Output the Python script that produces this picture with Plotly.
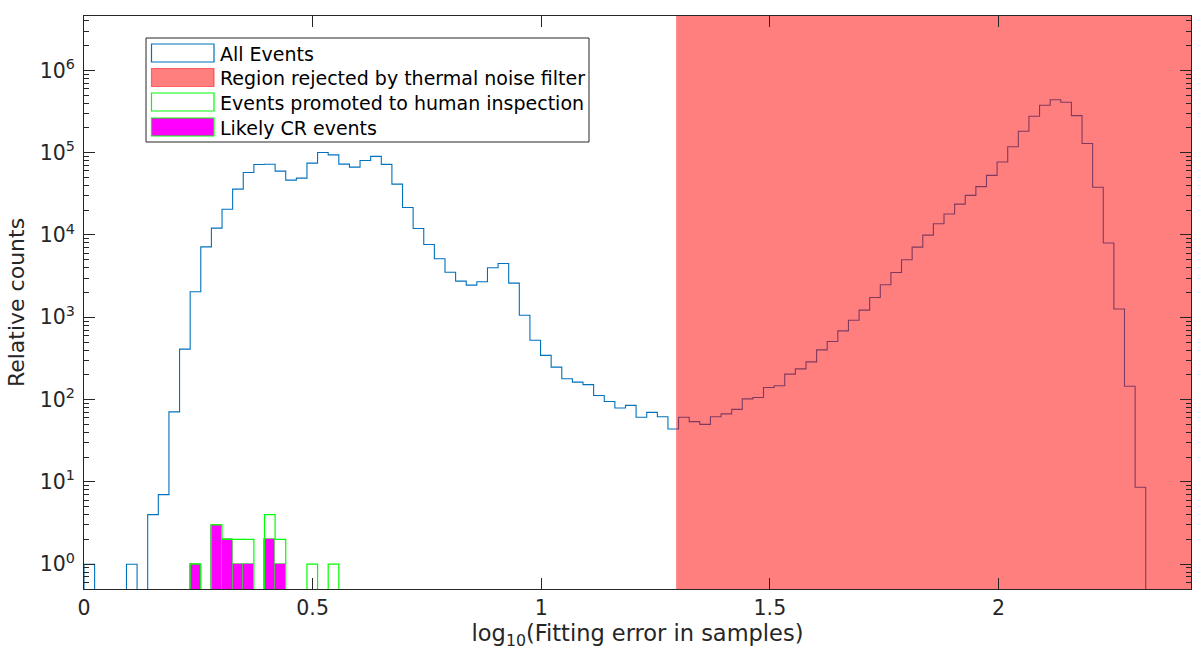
import numpy as np
import plotly.graph_objects as go

# ---------------- data ----------------
BIN_LO = 0.0
BIN_HI = 2.322
N_BINS = 100

all_counts = [
    1, 0, 0, 0, 1, 0, 4, 7, 71, 410,
    2040, 7160, 12100, 20500, 36000, 57400, 71900, 72300, 59600, 46300,
    49000, 74500, 100500, 94000, 72500, 66700, 80400, 90000, 72000, 41400,
    21600, 12000, 7670, 5130, 3530, 2750, 2460, 2700, 3990, 4510,
    2600, 1060, 527, 344, 248, 179, 163, 152, 112, 95,
    79, 85, 61, 70, 62, 44, 61, 54, 50, 62,
    67, 76, 102, 106, 140, 147, 204, 236, 287, 402,
    508, 684, 922, 1220, 1740, 2480, 3500, 4990, 7110, 9950,
    13700, 18000, 23700, 30300, 38700, 53000, 76900, 118000, 182000, 277000,
    376000, 440000, 410000, 282000, 129000, 38000, 8000, 1260, 145, 8.6,
]

promoted_bins = [10, 12, 13, 14, 15, 17, 18, 21, 23]
promoted_counts = [1, 3, 2, 2, 2, 4, 2, 1, 1]

cr_bins = [10, 12, 13, 14, 15, 17, 18]
cr_counts = [1, 3, 2, 1, 1, 2, 1]

THRESHOLD = 1.295          # start of thermal-noise rejection region
X_RANGE = [0, 2.421]
Y_RANGE_LOG = [-0.301, 6.66]

y_tick_vals = [1e0, 1e1, 1e2, 1e3, 1e4, 1e5, 1e6]
y_tick_text = ["10<sup>%d</sup>" % i for i in range(7)]
x_tick_vals = [0, 0.5, 1, 1.5, 2]
x_tick_text = ["0", "0.5", "1", "1.5", "2"]

legend_labels = [
    "All Events",
    "Region rejected by thermal noise filter",
    "Events promoted to human inspection",
    "Likely CR events",
]

# ---------------- helpers ----------------
edges = np.linspace(BIN_LO, BIN_HI, N_BINS + 1)
centers = 0.5 * (edges[:-1] + edges[1:])
width = edges[1] - edges[0]
FLOOR = 10 ** (Y_RANGE_LOG[0] - 2)


def full(bins, counts):
    arr = [0] * N_BINS
    for b, c in zip(bins, counts):
        arr[b] = c
    return arr


def step_xy(counts):
    xs = [edges[0]] + list(edges)
    ys = [FLOOR] + [c if c > 0 else FLOOR for c in counts] + [FLOOR]
    return xs, ys


DARK = "#262626"
FONT = "DejaVu Sans"

fig = go.Figure()

# Likely CR events (filled bars)
fig.add_trace(go.Bar(
    x=[centers[b] for b in cr_bins], y=cr_counts, width=width,
    marker=dict(color="#FF00FF", line=dict(color="rgba(0,255,0,0.5)", width=1)),
    showlegend=False, hoverinfo="skip",
))

# Promoted events (green outline)
gx, gy = step_xy(full(promoted_bins, promoted_counts))
fig.add_trace(go.Scatter(x=gx, y=gy, mode="lines", line=dict(color="#00FF00", width=1.2, shape="hv"),
                         showlegend=False, hoverinfo="skip"))

# All events (blue outline)
bx, by = step_xy(all_counts)
fig.add_trace(go.Scatter(x=bx, y=by, mode="lines", line=dict(color="#0072BD", width=1.1, shape="hv"),
                         showlegend=False, hoverinfo="skip"))

# Rejected region (semi-transparent red, on top of histogram)
fig.add_trace(go.Scatter(
    x=[THRESHOLD, X_RANGE[1] * 2, X_RANGE[1] * 2, THRESHOLD, THRESHOLD],
    y=[FLOOR, FLOOR, 1e9, 1e9, FLOOR],
    mode="lines", fill="toself", fillcolor="rgba(255,0,0,0.5)",
    line=dict(width=0, color="rgba(0,0,0,0)"), showlegend=False, hoverinfo="skip",
))

# ---------------- layout ----------------
ML, MR, MT, MB = 84, 5, 16, 74
W, H = 1196, 663
PW, PH = W - ML - MR, H - MT - MB


def fx(px):
    return (px - ML) / PW


def fy(py):
    return (H - MB - py) / PH


shapes = []
annotations = []
# legend box
shapes.append(dict(type="rect", xref="paper", yref="paper",
                   x0=fx(146), x1=fx(589), y0=fy(142), y1=fy(38),
                   line=dict(color=DARK, width=1), fillcolor="white", layer="above"))
swatches = [
    dict(fill="white", line="#0072BD"),
    dict(fill="rgba(255,0,0,0.5)", line="rgba(255,0,0,0.5)"),
    dict(fill="white", line="#00FF00"),
    dict(fill="#FF00FF", line="#00FF00"),
]
row_tops = [44, 68.5, 93, 118]
for i, (lab, sw) in enumerate(zip(legend_labels, swatches)):
    t = row_tops[i]
    shapes.append(dict(type="rect", xref="paper", yref="paper",
                       x0=fx(151.5), x1=fx(214), y0=fy(t + 18), y1=fy(t),
                       line=dict(color=sw["line"], width=1.2), fillcolor=sw["fill"], layer="above"))
    annotations.append(dict(xref="paper", yref="paper", x=fx(218), y=fy(t + 9.5),
                            text=lab, showarrow=False, xanchor="left", yanchor="middle",
                            font=dict(family=FONT, size=19, color="black")))

minor_vals = [m * 10 ** d for d in range(-1, 7) for m in range(2, 10)
              if Y_RANGE_LOG[0] <= np.log10(m * 10 ** d) <= Y_RANGE_LOG[1]]

fig.update_layout(
    width=W, height=H,
    margin=dict(l=ML, r=MR, t=MT, b=MB),
    paper_bgcolor="white", plot_bgcolor="white",
    bargap=0, barmode="overlay",
    font=dict(family=FONT, color=DARK),
    shapes=shapes, annotations=annotations,
    xaxis=dict(
        range=X_RANGE, tickvals=x_tick_vals, ticktext=x_tick_text,
        ticks="inside", ticklen=11, tickwidth=1, tickcolor=DARK,
        showline=True, linecolor=DARK, linewidth=1, mirror="ticks",
        showgrid=False, zeroline=False,
        tickfont=dict(family=FONT, size=20.5, color=DARK),
        title=dict(text="log<sub>10</sub>(Fitting error in samples)",
                   font=dict(family=FONT, size=22.5, color=DARK), standoff=6),
    ),
    yaxis=dict(
        type="log", range=Y_RANGE_LOG, tickvals=y_tick_vals, ticktext=y_tick_text,
        ticks="inside", ticklen=11, tickwidth=1, tickcolor=DARK,
        minor=dict(tickvals=minor_vals, ticks="inside", ticklen=5, tickcolor=DARK, showgrid=False),
        showline=True, linecolor=DARK, linewidth=1, mirror="ticks",
        showgrid=False, zeroline=False, ticklabelstandoff=4,
        tickfont=dict(family=FONT, size=20.5, color=DARK),
        title=dict(text="Relative counts", font=dict(family=FONT, size=22, color=DARK), standoff=8),
    ),
)

fig.write_html("out.html")
